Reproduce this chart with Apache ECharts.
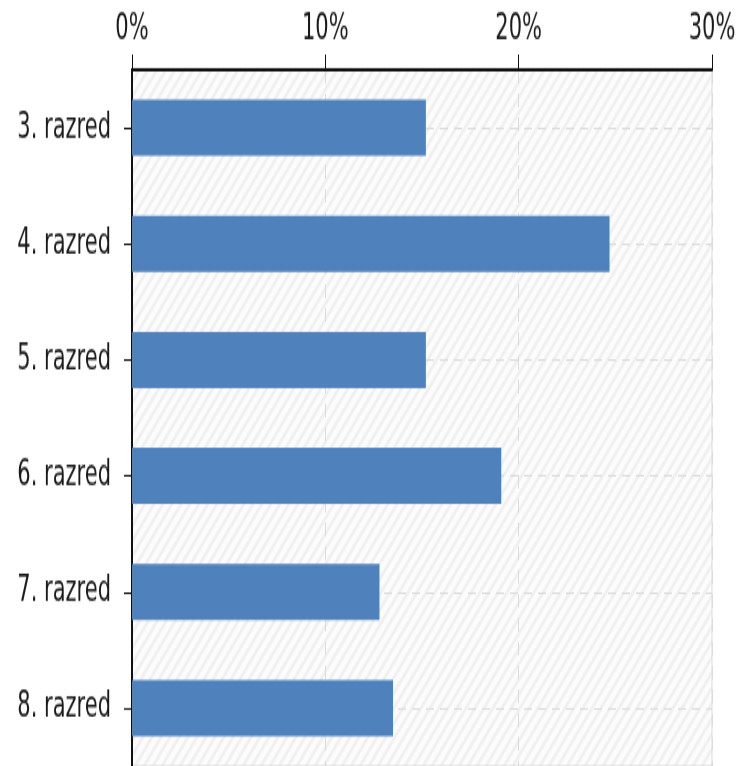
<!DOCTYPE html>
<html>
<head>
<meta charset="utf-8">
<script src="https://cdn.jsdelivr.net/npm/echarts@6/dist/echarts.min.js"></script>
<style>
html,body{margin:0;padding:0;background:#fff;overflow:hidden;width:741px;height:766px;}
#chart{width:741px;height:450px;transform:scaleY(1.7022);transform-origin:0 0;}
</style>
</head>
<body>
<div id="chart"></div>
<script>
const categories = ['3. razred', '4. razred', '5. razred', '6. razred', '7. razred', '8. razred'];
const values = [15.2, 24.7, 15.2, 19.1, 12.8, 13.5];
const xTicks = [0, 10, 20, 30];

// diagonal hatch pattern for the plot background
const tile = document.createElement('canvas');
tile.width = 9; tile.height = 9;
const g = tile.getContext('2d');
g.fillStyle = '#fcfcfc';
g.fillRect(0, 0, 9, 9);
g.strokeStyle = '#f0f0f0';
g.lineWidth = 2.4;
g.beginPath();
g.moveTo(-1, 10); g.lineTo(10, -1);
g.moveTo(-2, 2); g.lineTo(2, -2);
g.moveTo(7, 11); g.lineTo(11, 7);
g.stroke();

const chart = echarts.init(document.getElementById('chart'), null, {renderer: 'canvas'});
chart.setOption({
  animation: false,
  grid: {
    show: true,
    left: 132, right: 29, top: 41, bottom: 0,
    backgroundColor: {image: tile, repeat: 'repeat'},
    borderColor: '#dcdcdc', borderWidth: 1
  },
  xAxis: {
    type: 'value',
    position: 'top',
    min: xTicks[0], max: xTicks[xTicks.length - 1], interval: 10,
    axisLine: {show: true, lineStyle: {color: '#111', width: 2}},
    axisTick: {show: true, length: 9, lineStyle: {color: '#111', width: 1}},
    axisLabel: {
      formatter: '{value}%', fontFamily: 'DejaVu Sans', fontSize: 21,
      color: '#1a1a1a', margin: 13
    },
    splitLine: {show: true, lineStyle: {color: '#dcdcdc', width: 1, type: [8, 6]}}
  },
  yAxis: {
    type: 'category',
    inverse: true,
    data: categories,
    axisLine: {show: true, lineStyle: {color: '#111', width: 2}},
    axisTick: {show: true, alignWithLabel: true, length: 8, lineStyle: {color: '#111', width: 1}},
    axisLabel: {fontFamily: 'DejaVu Sans', fontSize: 21, color: '#1a1a1a', margin: 21},
    splitLine: {show: true, alignWithLabel: true, lineStyle: {color: '#dcdcdc', width: 1, type: [8, 6]}}
  },
  series: [{
    type: 'bar',
    data: values,
    barWidth: 33,
    itemStyle: {color: '#4f81bd'}
  }]
});
</script>
</body>
</html>
